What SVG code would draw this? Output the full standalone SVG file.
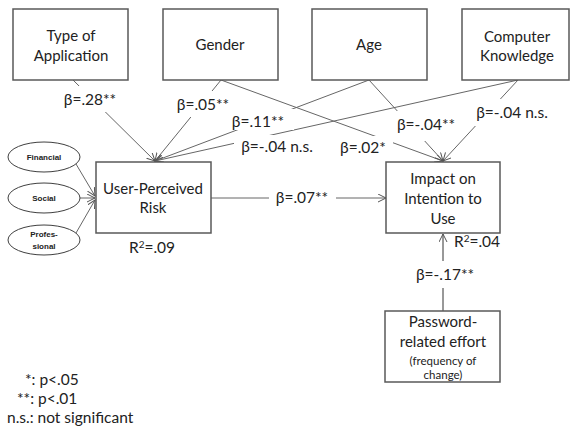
<svg xmlns="http://www.w3.org/2000/svg" width="571" height="428" viewBox="0 0 571 428">
<defs>
<style>
.box{fill:#fff;stroke:#595959;stroke-width:1.5}
.ell{fill:#fff;stroke:#404040;stroke-width:1}
.ln{fill:none;stroke:#666;stroke-width:1}
.t{font-family:Lato,"Liberation Sans",sans-serif;font-size:15px;fill:#222;text-anchor:middle}
.lb{font-family:Lato,"Liberation Sans",sans-serif;font-size:15.5px;fill:#222;text-anchor:middle}
.sm{font-family:Lato,"Liberation Sans",sans-serif;font-size:11.5px;fill:#222;text-anchor:middle}
.el{font-family:"Liberation Sans",Arial,sans-serif;font-size:8px;font-weight:bold;fill:#222;text-anchor:middle}
.lg{font-family:Lato,"Liberation Sans",sans-serif;font-size:15.5px;fill:#222}
.bg{fill:#fff;stroke:none}
</style>
<marker id="arr" markerWidth="10" markerHeight="10" refX="8" refY="4" orient="auto" markerUnits="userSpaceOnUse">
<path d="M0,0 L8,4 L0,8" fill="none" stroke="#555" stroke-width="1"/>
</marker>
</defs>
<rect width="571" height="428" fill="#fff"/>

<g id="connectors">
<line class="ln" x1="73" y1="80" x2="155" y2="161" marker-end="url(#arr)"/>
<line class="ln" x1="221" y1="80" x2="155" y2="161" marker-end="url(#arr)"/>
<line class="ln" x1="369" y1="80" x2="155" y2="161" marker-end="url(#arr)"/>
<line class="ln" x1="518" y1="80" x2="155" y2="161" marker-end="url(#arr)"/>
<line class="ln" x1="221" y1="80" x2="443" y2="161" marker-end="url(#arr)"/>
<line class="ln" x1="369" y1="80" x2="443" y2="161" marker-end="url(#arr)"/>
<line class="ln" x1="518" y1="80" x2="443" y2="161" marker-end="url(#arr)"/>
<line class="ln" x1="211" y1="198" x2="386" y2="198" marker-end="url(#arr)"/>
<line class="ln" x1="443" y1="311" x2="443" y2="234" marker-end="url(#arr)" style="stroke:#333"/>
<line class="ln" x1="76" y1="164" x2="95" y2="196" marker-end="url(#arr)"/>
<line class="ln" x1="80" y1="198" x2="95" y2="198" marker-end="url(#arr)"/>
<line class="ln" x1="76" y1="233" x2="95" y2="200" marker-end="url(#arr)"/>
</g>

<g id="labels">
<rect class="bg" x="58" y="86" width="65" height="26"/>
<text class="lb" x="90" y="105">β=.28**</text>
<rect class="bg" x="172" y="91" width="62" height="26"/>
<text class="lb" x="203" y="110">β=.05**</text>
<rect class="bg" x="229" y="109" width="65" height="21"/>
<text class="lb" x="258" y="127">β=.11**</text>
<rect class="bg" x="234" y="135" width="84" height="22"/>
<text class="lb" x="277" y="152">β=-.04 n.s.</text>
<rect class="bg" x="337" y="136" width="56" height="22"/>
<text class="lb" x="363" y="153">β=.02*</text>
<rect class="bg" x="393" y="111" width="66" height="30"/>
<text class="lb" x="426" y="130">β=-.04**</text>
<rect class="bg" x="472" y="99" width="80" height="27"/>
<text class="lb" x="512" y="118">β=-.04 n.s.</text>
<rect class="bg" x="269" y="186" width="67" height="24"/>
<text class="lb" x="302" y="203">β=.07**</text>
<rect class="bg" x="413" y="261" width="62" height="27"/>
<text class="lb" x="445" y="280">β=-.17**</text>
</g>

<g id="type-of-application">
<rect class="box" x="13" y="9" width="115" height="71"/>
<text class="t" x="71" y="41">Type of</text>
<text class="t" x="71" y="61">Application</text>
</g>
<g id="gender">
<rect class="box" x="163" y="9" width="115" height="71"/>
<text class="t" x="220" y="50">Gender</text>
</g>
<g id="age">
<rect class="box" x="312" y="9" width="115" height="71"/>
<text class="t" x="369" y="50">Age</text>
</g>
<g id="computer-knowledge">
<rect class="box" x="462" y="9" width="107" height="71"/>
<text class="t" x="517" y="42">Computer</text>
<text class="t" x="517" y="61">Knowledge</text>
</g>

<g id="financial">
<ellipse class="ell" cx="44" cy="157" rx="36" ry="15"/>
<text class="el" x="44" y="160">Financial</text>
</g>
<g id="social">
<ellipse class="ell" cx="44" cy="198" rx="36" ry="15"/>
<text class="el" x="44" y="201">Social</text>
</g>
<g id="professional">
<ellipse class="ell" cx="44" cy="240" rx="36" ry="15"/>
<text class="el" x="44" y="237">Profes-</text>
<text class="el" x="44" y="249">sional</text>
</g>

<g id="user-perceived-risk">
<rect class="box" x="96" y="162" width="115" height="71"/>
<text class="t" x="153" y="194">User-Perceived</text>
<text class="t" x="153" y="213">Risk</text>
<text class="lb" x="152" y="253">R<tspan font-size="10" dy="-5">2</tspan><tspan dy="5">=.09</tspan></text>
</g>

<g id="impact-on-intention">
<rect class="box" x="386" y="162" width="114" height="71"/>
<text class="t" x="443" y="184">Impact on</text>
<text class="t" x="443" y="204">Intention to</text>
<text class="t" x="443" y="224">Use</text>
<text class="lb" x="477" y="247">R<tspan font-size="10" dy="-5">2</tspan><tspan dy="5">=.04</tspan></text>
</g>

<g id="password-effort">
<rect class="box" x="385" y="311" width="115" height="71"/>
<text class="t" x="443" y="327">Password-</text>
<text class="t" x="443" y="347">related effort</text>
<text class="sm" x="443" y="365">(frequency of</text>
<text class="sm" x="443" y="379">change)</text>
</g>

<g id="legend">
<text class="lg" x="25" y="385">*: p&lt;.05</text>
<text class="lg" x="17" y="404">**: p&lt;.01</text>
<text class="lg" x="7" y="423">n.s.: not significant</text>
</g>
</svg>
